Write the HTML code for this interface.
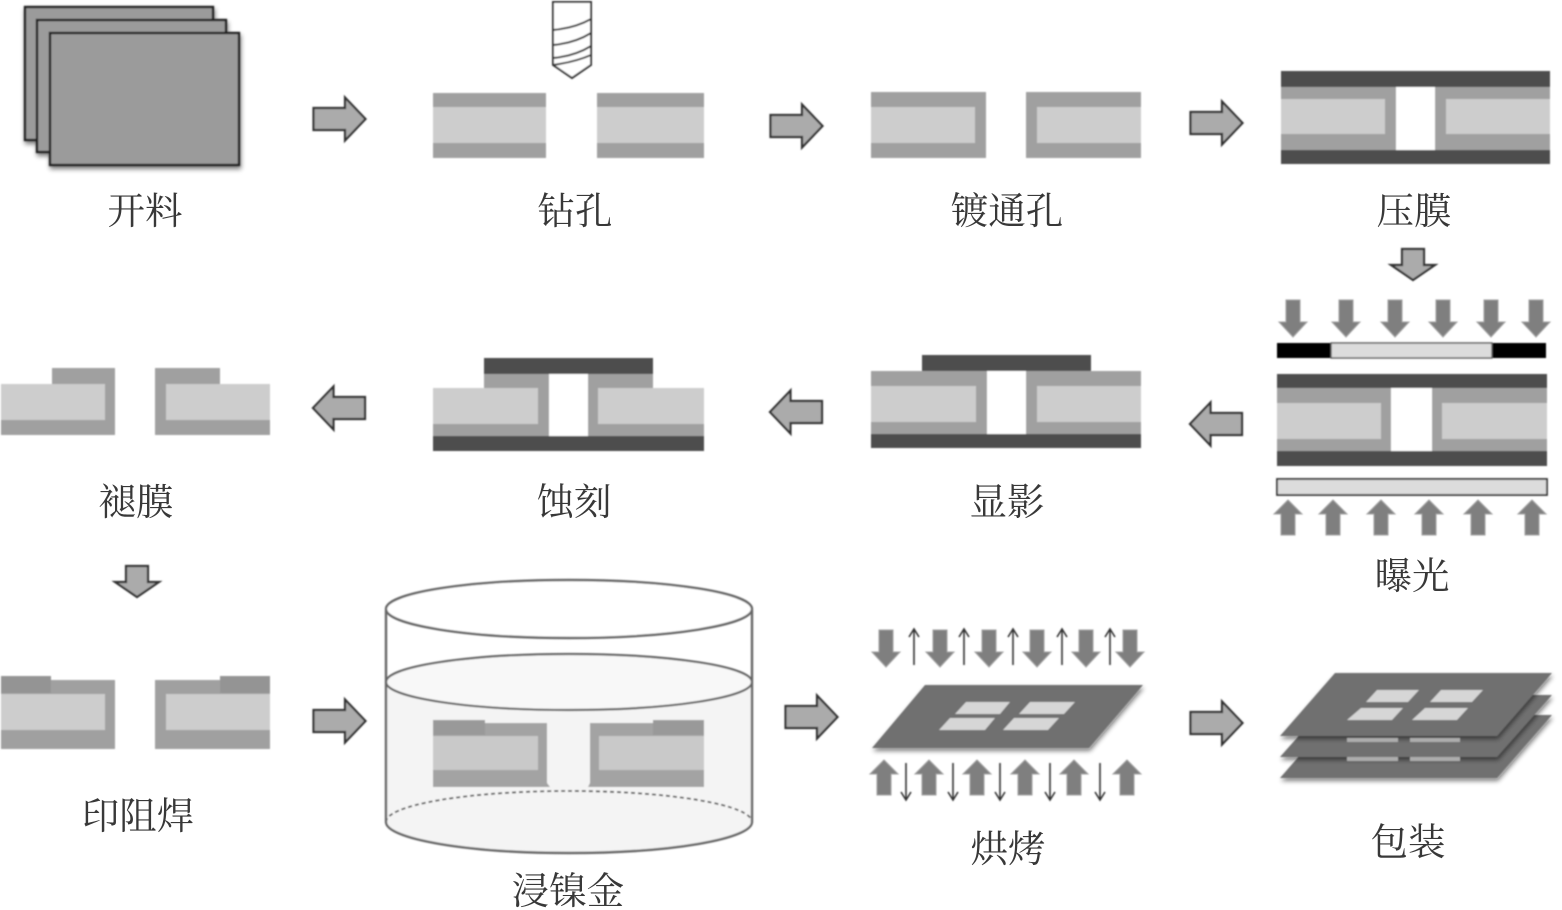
<!DOCTYPE html>
<html><head><meta charset="utf-8"><style>
html,body{margin:0;padding:0;background:#fff;width:1562px;height:910px;overflow:hidden}
svg{display:block}
text{font-family:"Liberation Serif","Noto Serif CJK SC",serif;font-size:37.5px;fill:#383838;text-anchor:middle}
</style></head><body>
<svg width="1562" height="910" viewBox="0 0 1562 910" xmlns="http://www.w3.org/2000/svg">
<defs>
<filter id="b" x="-5%" y="-5%" width="110%" height="110%"><feGaussianBlur stdDeviation="0.8"/></filter>
<filter id="s" x="-10%" y="-10%" width="125%" height="130%"><feGaussianBlur in="SourceAlpha" stdDeviation="2.5"/><feOffset dx="1" dy="3"/><feComponentTransfer><feFuncA type="linear" slope="0.5"/></feComponentTransfer><feMerge><feMergeNode/><feMergeNode in="SourceGraphic"/></feMerge></filter>
<polygon id="R" points="-25.5,-11 6,-11 6,-21.5 26.5,0 6,21.5 6,11 -25.5,11" fill="#ababab" stroke="#333" stroke-width="2.2"/>
<polygon id="L" points="26,-11 -5.5,-11 -5.5,-21.5 -26,0 -5.5,21.5 -5.5,11 26,11" fill="#ababab" stroke="#333" stroke-width="2.2"/>
<polygon id="D" points="-11,-15 11,-15 11,1 22,1 0,16 -22,1 -11,1" fill="#ababab" stroke="#333" stroke-width="2.2"/>
<polygon id="dn" points="-7,0 7,0 7,22 14,22 0,37 -14,22 -7,22" fill="#7f7f7f" stroke="#a0a0a0" stroke-width="1"/>
<polygon id="up" points="-7,35 7,35 7,14 14,14 0,0 -14,14 -7,14" fill="#7f7f7f" stroke="#a0a0a0" stroke-width="1"/>
<path id="tu" d="M0,37V1M-5,9L0,1L5,9" fill="none" stroke="#333" stroke-width="1.6"/>
<path id="td" d="M0,0V37M-5,29L0,37L5,29" fill="none" stroke="#333" stroke-width="1.6"/>
</defs>
<g filter="url(#b)">
<g filter="url(#s)" fill="#9b9b9b" stroke="#222" stroke-width="2.4">
<rect x="25" y="7" width="188" height="133"/>
<rect x="37" y="20" width="189" height="132"/>
<rect x="50" y="33" width="189" height="132"/>
</g>
<use href="#R" x="339" y="119"/><use href="#R" x="796" y="126"/><use href="#R" x="1216" y="123"/>
<use href="#R" x="339" y="721"/><use href="#R" x="811" y="717"/><use href="#R" x="1216" y="723"/>
<use href="#L" x="339" y="408"/><use href="#L" x="796" y="412"/><use href="#L" x="1216" y="424"/>
<use href="#D" x="1413" y="264"/><use href="#D" x="137" y="581"/>

<path d="M553,2H591V65L572,78L553,65Z" fill="#fff" stroke="#333" stroke-width="2"/>
<path d="M553,30Q575,28 591,19M553,45Q575,43 591,33M553,58Q575,56 591,46M553,65Q575,62 591,55" fill="none" stroke="#333" stroke-width="2"/>

<g fill="#a0a0a0">
<rect x="433" y="93" width="113" height="65"/><rect x="597" y="93" width="107" height="65"/>
<rect x="871" y="92" width="115" height="66"/><rect x="1026" y="92" width="115" height="66"/>
</g>
<g fill="#cdcdcd">
<rect x="433" y="107" width="113" height="36"/><rect x="597" y="107" width="107" height="36"/>
<rect x="871" y="107" width="104" height="36"/><rect x="1037" y="107" width="104" height="36"/>
</g>

<rect x="1281" y="71" width="269" height="93" fill="#4d4d4d"/>
<rect x="1281" y="87" width="269" height="63" fill="#a0a0a0"/>
<rect x="1281" y="99" width="104" height="35" fill="#cdcdcd"/><rect x="1446" y="99" width="104" height="35" fill="#cdcdcd"/>
<rect x="1396" y="87" width="39" height="63" fill="#fff"/>

<use href="#dn" x="1293" y="300"/><use href="#dn" x="1346" y="300"/><use href="#dn" x="1395" y="300"/><use href="#dn" x="1443" y="300"/><use href="#dn" x="1491" y="300"/><use href="#dn" x="1536" y="300"/>
<rect x="1277" y="343" width="269" height="15" fill="#000"/>
<rect x="1331" y="343" width="161" height="15" fill="#dcdcdc" stroke="#555" stroke-width="1.4"/>
<rect x="1277" y="374" width="270" height="92" fill="#4d4d4d"/>
<rect x="1277" y="388" width="270" height="63" fill="#a0a0a0"/>
<rect x="1277" y="403" width="104" height="36" fill="#cdcdcd"/><rect x="1442" y="403" width="105" height="36" fill="#cdcdcd"/>
<rect x="1391" y="388" width="41" height="63" fill="#fff"/>
<rect x="1277" y="479" width="270" height="16" fill="#dcdcdc" stroke="#333" stroke-width="1.8"/>
<use href="#up" x="1288" y="500"/><use href="#up" x="1333" y="500"/><use href="#up" x="1381" y="500"/><use href="#up" x="1429" y="500"/><use href="#up" x="1478" y="500"/><use href="#up" x="1532" y="500"/>

<rect x="922" y="355" width="169" height="16" fill="#4d4d4d"/>
<rect x="871" y="371" width="270" height="63" fill="#a0a0a0"/>
<rect x="871" y="386" width="105" height="36" fill="#cdcdcd"/><rect x="1037" y="386" width="104" height="36" fill="#cdcdcd"/>
<rect x="987" y="371" width="39" height="63" fill="#fff"/>
<rect x="871" y="434" width="270" height="14" fill="#4d4d4d"/>

<rect x="484" y="358" width="169" height="16" fill="#4d4d4d"/>
<rect x="484" y="374" width="169" height="15" fill="#a0a0a0"/>
<rect x="433" y="388" width="271" height="48" fill="#a0a0a0"/>
<rect x="433" y="388" width="105" height="36" fill="#cdcdcd"/><rect x="598" y="388" width="106" height="36" fill="#cdcdcd"/>
<rect x="549" y="374" width="39" height="62" fill="#fff"/>
<rect x="433" y="436" width="271" height="15" fill="#4d4d4d"/>

<path d="M1,384H52V368H115V435H1Z" fill="#a0a0a0"/>
<rect x="1" y="384" width="104" height="36" fill="#cdcdcd"/>
<path d="M155,368H220V384H270V435H155Z" fill="#a0a0a0"/>
<rect x="166" y="384" width="104" height="36" fill="#cdcdcd"/>

<path d="M1,676H51V680H115V749H1Z" fill="#a0a0a0"/>
<rect x="1" y="676" width="50" height="17" fill="#949494"/>
<rect x="1" y="694" width="104" height="36" fill="#cdcdcd"/>
<path d="M155,680H220V676H270V749H155Z" fill="#a0a0a0"/>
<rect x="220" y="676" width="50" height="17" fill="#949494"/>
<rect x="166" y="694" width="104" height="36" fill="#cdcdcd"/>

<path d="M386,682V822A183,31 0 0 0 752,822V682Z" fill="#f4f4f4"/>
<ellipse cx="569" cy="682" rx="183" ry="28" fill="#f8f8f8" stroke="#666" stroke-width="2.2"/>
<path d="M433,720H485V723H547V783L550,787H433Z" fill="#a3a3a3"/>
<rect x="433" y="720" width="52" height="15" fill="#999"/>
<rect x="433" y="736" width="105" height="34" fill="#c9c9c9"/>
<path d="M590,723H653V720H704V787H588L590,783Z" fill="#a3a3a3"/>
<rect x="653" y="720" width="51" height="15" fill="#999"/>
<rect x="599" y="736" width="105" height="34" fill="#c9c9c9"/>
<path d="M386,822A183,31 0 0 1 752,822" fill="none" stroke="#555" stroke-width="1.8" stroke-dasharray="4 3"/>
<path d="M386,610V822A183,31 0 0 0 752,822V610" fill="none" stroke="#666" stroke-width="2.4"/>
<ellipse cx="569" cy="609" rx="183" ry="29" fill="#fff" stroke="#666" stroke-width="2.4"/>

<use href="#dn" x="886" y="630"/><use href="#dn" x="940" y="630"/><use href="#dn" x="989" y="630"/><use href="#dn" x="1037" y="630"/><use href="#dn" x="1086" y="630"/><use href="#dn" x="1130" y="630"/>
<use href="#tu" x="914" y="628"/><use href="#tu" x="964" y="628"/><use href="#tu" x="1013" y="628"/><use href="#tu" x="1062" y="628"/><use href="#tu" x="1110" y="628"/>
<use href="#up" x="884" y="760"/><use href="#up" x="929" y="760"/><use href="#up" x="977" y="760"/><use href="#up" x="1025" y="760"/><use href="#up" x="1074" y="760"/><use href="#up" x="1127" y="760"/>
<use href="#td" x="906" y="763"/><use href="#td" x="953" y="763"/><use href="#td" x="1000" y="763"/><use href="#td" x="1050" y="763"/><use href="#td" x="1100" y="763"/>
<polygon points="925,685 1143,685 1089,748 872,748" fill="#6f6f6f" filter="url(#s)"/>
<g fill="#d6d6d6">
<polygon points="966,702 1010,702 1000,714 955,714"/><polygon points="1030,702 1075,702 1064,714 1019,714"/>
<polygon points="950,718 995,718 985,730 939,730"/><polygon points="1014,718 1059,718 1048,730 1003,730"/>
</g>

<polygon points="1335,715 1552,715 1497,778 1280,778" fill="#6f6f6f" filter="url(#s)"/>
<polygon points="1335,695 1552,695 1497,757 1280,757" fill="#6f6f6f" filter="url(#s)"/>
<g fill="#adadad"><rect x="1347" y="757" width="51" height="4"/><rect x="1410" y="757" width="50" height="4"/></g>
<polygon points="1335,673 1552,673 1497,736 1280,736" fill="#6f6f6f" filter="url(#s)"/>
<g fill="#adadad"><rect x="1347" y="738" width="51" height="4"/><rect x="1410" y="738" width="50" height="4"/></g>
<g fill="#d6d6d6">
<polygon points="1377,690 1419,690 1408,702 1366,702"/><polygon points="1441,690 1483,690 1472,702 1430,702"/>
<polygon points="1361,708 1403,708 1392,720 1347,720"/><polygon points="1425,708 1468,708 1457,720 1412,720"/>
</g>
</g>
<text x="145" y="224">开料</text>
<text x="575" y="224">钻孔</text>
<text x="1007" y="224">镀通孔</text>
<text x="1414" y="224">压膜</text>
<text x="136" y="515">褪膜</text>
<text x="574" y="515">蚀刻</text>
<text x="1007" y="515">显影</text>
<text x="1412" y="589">曝光</text>
<text x="138" y="829">印阻焊</text>
<text x="568" y="904">浸镍金</text>
<text x="1008" y="862">烘烤</text>
<text x="1408" y="855">包装</text>
</svg>
</body></html>
